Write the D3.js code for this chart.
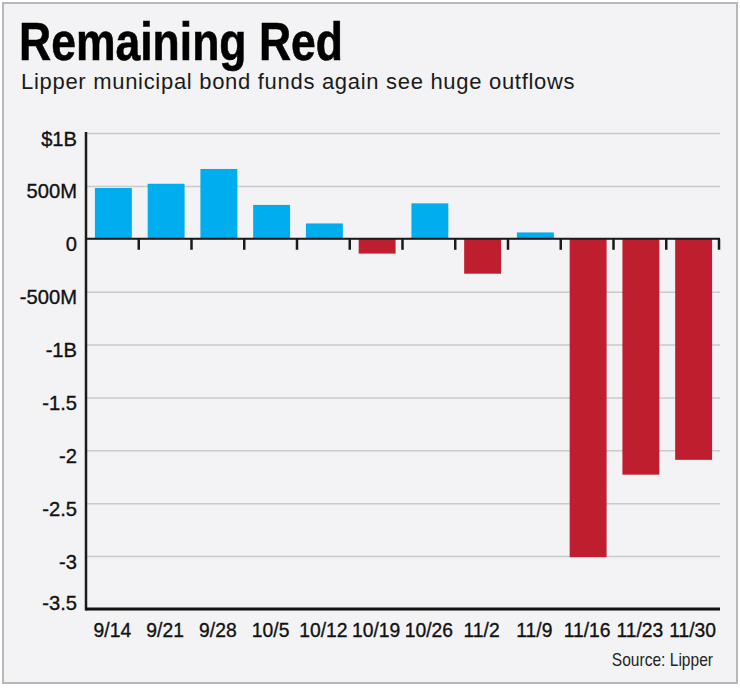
<!DOCTYPE html>
<html>
<head>
<meta charset="utf-8">
<script src="https://cdn.jsdelivr.net/npm/d3@7"></script>
<style>
  body { margin: 0; background: #fff; }
  svg { display: block; }
  .tick-label { font-family: "Liberation Sans", Arial, sans-serif; font-size: 21px; fill: #111; stroke: #111; stroke-width: 0.35px; }
</style>
</head>
<body>
<svg id="chart" width="740" height="688"></svg>
<script>
// weekly net flows, billions of dollars
const weeks = ['9/14', '9/21', '9/28', '10/5', '10/12', '10/19', '10/26', '11/2', '11/9', '11/16', '11/23', '11/30'];
const flows = [0.48, 0.52, 0.66, 0.32, 0.145, -0.14, 0.335, -0.33, 0.06, -3.01, -2.23, -2.09];
const yTicks = [1, 0.5, 0, -0.5, -1, -1.5, -2, -2.5, -3, -3.5];
const yTickLabels = ['$1B', '500M', '0', '-500M', '-1B', '-1.5', '-2', '-2.5', '-3', '-3.5'];

const svg = d3.select('#chart');

// panel
svg.append('rect')
  .attr('x', 3).attr('y', 3)
  .attr('width', 734).attr('height', 680)
  .attr('fill', '#f3f3f5')
  .attr('stroke', '#b8b8b8')
  .attr('stroke-width', 2);

// no condensed face installed, so squeeze the regular one
svg.append('text')
  .attr('transform', 'translate(19,60) scale(0.84,1)')
  .attr('font-family', '"Liberation Sans", Arial, sans-serif')
  .attr('font-weight', 'bold')
  .attr('font-size', 53)
  .attr('fill', '#000')
  .attr('stroke', '#000')
  .attr('stroke-width', 0.6)
  .text('Remaining Red');

svg.append('text')
  .attr('x', 21).attr('y', 89)
  .attr('font-family', '"Liberation Sans", Arial, sans-serif')
  .attr('font-size', 22)
  .attr('letter-spacing', 0.7)
  .attr('fill', '#1a1a1a')
  .text('Lipper municipal bond funds again see huge outflows');

const plotLeft = 86, plotRight = 719, plotTop = 133, plotBottom = 609;

const x = d3.scaleBand()
  .domain(weeks)
  .range([plotLeft, plotRight])
  .paddingInner(0.3)
  .paddingOuter(0.15);

const y = d3.scaleLinear()
  .domain([-3.5, 1])
  .range([plotBottom, plotTop]);

// gridlines
const grid = svg.append('g')
  .attr('transform', `translate(${plotLeft},0)`)
  .call(d3.axisLeft(y).tickValues(yTicks).tickSize(-(plotRight + 1 - plotLeft)).tickFormat(''));
grid.select('.domain').remove();
grid.selectAll('.tick line').attr('stroke', '#cacaca').attr('stroke-width', 1.5);

// bars
svg.append('g').selectAll('rect')
  .data(flows)
  .join('rect')
    .attr('x', (d, i) => x(weeks[i]) + 1)
    .attr('width', x.bandwidth())
    .attr('y', d => y(Math.max(0, d)))
    .attr('height', d => Math.abs(y(d) - y(0)))
    .attr('fill', d => d >= 0 ? '#00adef' : '#be1e2d');

// zero line and its tick marks
svg.append('line')
  .attr('x1', plotLeft).attr('x2', plotRight + 1)
  .attr('y1', y(0)).attr('y2', y(0))
  .attr('stroke', '#1a1a1a').attr('stroke-width', 2);

const gap = x.step() * x.paddingInner() / 2;
svg.append('g').selectAll('line')
  .data(weeks)
  .join('line')
    .attr('x1', d => x(d) + x.bandwidth() + gap)
    .attr('x2', d => x(d) + x.bandwidth() + gap)
    .attr('y1', y(0))
    .attr('y2', y(0) + 11)
    .attr('stroke', '#1a1a1a')
    .attr('stroke-width', 2.5);

// y axis line + bottom line
svg.append('line')
  .attr('x1', plotLeft).attr('x2', plotLeft)
  .attr('y1', plotTop - 1).attr('y2', plotBottom + 1.5)
  .attr('stroke', '#1a1a1a').attr('stroke-width', 2.5);
svg.append('line')
  .attr('x1', plotLeft).attr('x2', plotRight + 1)
  .attr('y1', plotBottom).attr('y2', plotBottom)
  .attr('stroke', '#111').attr('stroke-width', 3);

// y labels
const yAxisG = svg.append('g')
  .attr('transform', `translate(${plotLeft - 9},0)`)
  .call(d3.axisLeft(y).tickValues(yTicks).tickSize(0).tickPadding(0)
    .tickFormat((d, i) => yTickLabels[i]));
yAxisG.select('.domain').remove();
yAxisG.selectAll('text')
  .attr('class', 'tick-label')
  .attr('dy', d => d === -3.5 ? 0 : 12)
  .attr('text-anchor', 'end')
  .attr('transform', 'scale(0.96,1)');

// x labels
const xAxisG = svg.append('g')
  .attr('transform', `translate(0,${plotBottom})`)
  .call(d3.axisBottom(x).tickSize(0).tickPadding(0));
xAxisG.select('.domain').remove();
xAxisG.selectAll('text')
  .attr('class', 'tick-label')
  .attr('y', 28)
  .attr('dy', 0)
  .attr('transform', 'scale(0.92,1)');

svg.append('text')
  .attr('transform', 'translate(713,666) scale(0.89,1)')
  .attr('text-anchor', 'end')
  .attr('font-family', '"Liberation Sans", Arial, sans-serif')
  .attr('font-size', 17.5)
  .attr('fill', '#222')
  .text('Source: Lipper');
</script>
</body>
</html>
